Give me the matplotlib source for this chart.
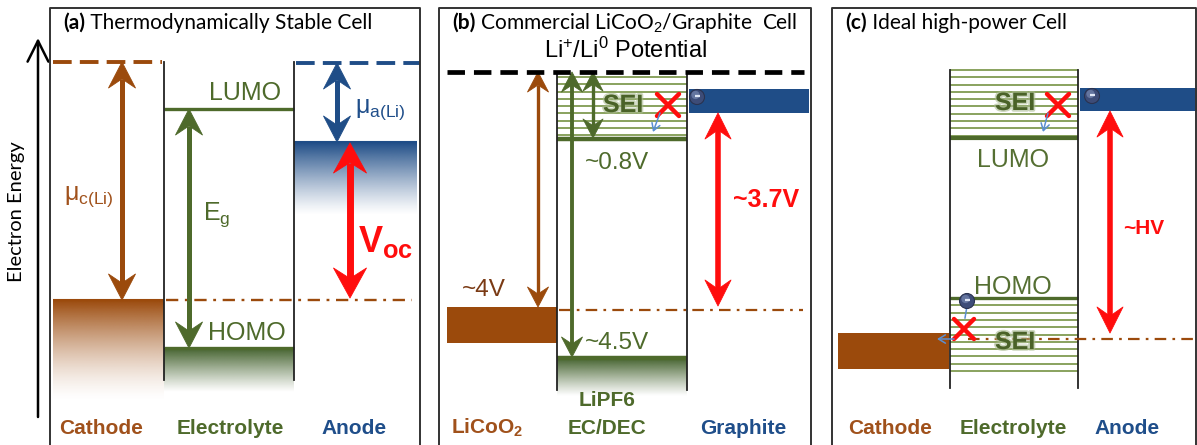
import numpy as np
import matplotlib.pyplot as plt
import matplotlib.patheffects as pe
from matplotlib.patches import Circle, Rectangle, Polygon
from matplotlib.colors import to_rgb

plt.rcParams['mathtext.fontset'] = 'custom'
plt.rcParams['mathtext.rm'] = 'Liberation Sans'
plt.rcParams['mathtext.it'] = 'Liberation Sans:italic'
plt.rcParams['mathtext.bf'] = 'Liberation Sans:bold'

ARIAL = ['Liberation Sans', 'DejaVu Sans']
CALIBRI = ['Lato', 'DejaVu Sans']

BROWN = '#9b4a0c'
BROWN_TXT = '#a0511b'
GREEN = '#4e6a2b'
HATCH = '#809b52'
BLUE = '#1f4d87'
BLUE_TXT = '#1f4e8a'
RED = '#ff0d0d'
FRAME = '#333333'

# panel frames (left, right) in pixels
frames = [(50, 420), (439, 811), (832, 1196)]
titles = [('(a)', ' Thermodynamically Stable Cell'),
          ('(b)', ' Commercial LiCoO$_2$/Graphite  Cell'),
          ('(c)', ' Ideal high-power Cell')]

# panel (a) energy levels (pixel rows, top = high electron energy)
a_cath_mu, a_cath_top = 62, 300
a_lumo, a_homo = 109, 348
a_anode_mu, a_anode_top = 63, 142
a_voc_base = 300

# panel (b)
b_li_ref = 72
b_sei_top, b_lumo = 77, 139
b_graph_top, b_graph_bot = 89, 113
b_licoo2_top, b_licoo2_bot = 307, 343
b_fermi = 310
b_homo = 358

# panel (c)
c_sei_top, c_lumo = 70, 138
c_anode_top, c_anode_bot = 88, 111
c_homo, c_sei_bot = 298, 375
c_cath_top, c_cath_bot = 333, 369
c_fermi = 339

fig = plt.figure(figsize=(11.97, 4.45), dpi=100)
ax = fig.add_axes([0, 0, 1, 1])


def grad(x0, x1, y0, y1, color, p=1.3):
    n = 200
    s = np.linspace(0, 1, n)[:, None]
    a = (1 - s) ** p
    rgba = np.zeros((n, 2, 4))
    rgba[..., :3] = to_rgb(color)
    rgba[..., 3] = a
    ax.imshow(rgba, extent=(x0, x1, y1, y0), origin='upper',
              aspect='auto', interpolation='bilinear', zorder=1)


def darrow(x, y0, y1, color, lw=3, hw=26, hl=24):
    # double arrow with stealth style heads, y0 = top tip, y1 = bottom tip
    notch = 0.35 * hl
    ax.plot([x, x], [y0 + hl - notch, y1 - hl + notch], color=color, lw=lw,
            zorder=5, solid_capstyle='butt')
    for tip, d in ((y0, 1), (y1, -1)):
        pts = [(x, tip), (x + hw / 2, tip + d * hl),
               (x, tip + d * (hl - notch)), (x - hw / 2, tip + d * hl)]
        ax.add_patch(Polygon(pts, closed=True, fc=color, ec=color, lw=0.6,
                             joinstyle='round', zorder=5))


def hline(y, x0, x1, color, lw, ls='-', z=3):
    ax.plot([x0, x1], [y, y], color=color, lw=lw, ls=ls, zorder=z,
            solid_capstyle='butt', dash_capstyle='butt')


def vline(x, y0, y1, lw=1.3):
    ax.plot([x, x], [y0, y1], color='#222222', lw=lw, zorder=4)


def hatch(x0, x1, y0, y1, step=7.3):
    for y in np.arange(y0, y1, step):
        hline(y, x0, x1, HATCH, 1.3, z=2)


def sei(x, y):
    ax.text(x, y, 'SEI', fontsize=18, fontweight='bold', color='#4a6228',
            family=ARIAL, ha='center', va='center', zorder=6,
            path_effects=[pe.withStroke(linewidth=2.5, foreground='#a9ba90',
                                        alpha=0.6)])


def cross(x, y, r=11):
    ax.plot([x - r, x + r], [y - r, y + r], color=RED, lw=3.2, zorder=7,
            solid_capstyle='round')
    ax.plot([x - r, x + r], [y + r, y - r], color=RED, lw=3.2, zorder=7,
            solid_capstyle='round')


def electron(x, y, r=7.5):
    ax.add_patch(Circle((x, y), r, fc='#3d4c78', ec='#2a3350', lw=0.8, zorder=8))
    ax.add_patch(Circle((x - 1.5, y - 2), r * 0.55, fc='#6f80aa', ec='none',
                        alpha=0.8, zorder=8))
    ax.plot([x - 2.5, x + 2.5], [y - 1, y - 1], color='#dfe6f5', lw=1.6,
            zorder=9, solid_capstyle='butt')


def small_arrow(p0, p1):
    ax.annotate('', xy=p1, xytext=p0,
                arrowprops=dict(arrowstyle='->,head_length=0.5,head_width=0.3',
                                color='#5a8fd2', lw=1.1, shrinkA=0, shrinkB=0),
                zorder=7)


# frames and titles
for (l, r), (tb, tr) in zip(frames, titles):
    ax.plot([l, l, r, r], [460, 8, 8, 460], color=FRAME, lw=1.4, zorder=10)
    t = ax.text(l + 13, 23, tb, fontsize=15, fontweight='bold',
                family=CALIBRI, va='center', ha='left', zorder=10)
    ax.annotate(tr, xy=(1, 0.5), xycoords=t, va='center', ha='left',
                fontsize=15, family=CALIBRI, zorder=10)

# energy axis
ax.annotate('', xy=(38, 38), xytext=(38, 417),
            arrowprops=dict(arrowstyle='->,head_length=1.0,head_width=0.5',
                            color='black', lw=1.8, shrinkA=0, shrinkB=0,
                            mutation_scale=15))
ax.text(17, 212, 'Electron Energy', rotation=90, fontsize=14.5,
        family=CALIBRI, ha='center', va='center')

# ---------------- panel (a) ----------------
grad(53, 164, a_cath_top, 402, BROWN, p=1.5)
grad(164, 294, a_homo, 392, '#45632f', p=1.1)
grad(294, 417, a_anode_top, 215, BLUE, p=1.2)
hline(a_cath_top, 53, 164, BROWN, 1.5)
hline(a_anode_top, 294, 417, BLUE, 1.5)

hline(a_cath_mu, 53, 162, BROWN, 2.8, ls=(0, (4.8, 2.1)))
hline(a_anode_mu, 296, 420, BLUE, 2.8, ls=(0, (4.8, 2.1)))
vline(164, 62, 380)
vline(294, 62, 380)
hline(a_lumo, 164, 294, GREEN, 2.4)
hline(a_homo, 164, 294, GREEN, 2.4)
hline(a_voc_base, 166, 412, BROWN, 1.7, ls=(0, (5.2, 2.8, 1.2, 2.8)))

darrow(122, a_cath_mu, a_cath_top, BROWN, lw=3.6, hw=27, hl=26)
darrow(189, a_lumo, a_homo, GREEN, lw=3.6, hw=27, hl=26)
darrow(337, a_anode_mu, a_anode_top, BLUE, lw=3.6, hw=27, hl=26)
darrow(350, a_anode_top + 1, a_voc_base - 2, RED, lw=5, hw=33, hl=30)

ax.text(89, 197, r'$\mathrm{\mu_{c(Li)}}$', fontsize=18, color=BROWN_TXT,
        ha='center', va='center', family=ARIAL)
ax.text(217, 215, r'$\mathrm{E_g}$', fontsize=18, color=GREEN,
        ha='center', va='center', family=ARIAL)
ax.text(380, 110, r'$\mathrm{\mu_{a(Li)}}$', fontsize=18, color=BLUE_TXT,
        ha='center', va='center', family=ARIAL)
ax.text(386, 242, r'$\mathbf{V_{oc}}$', fontsize=26, color=RED,
        ha='center', va='center', family=ARIAL)
ax.text(245, 93, 'LUMO', fontsize=18, color=GREEN, ha='center',
        va='center', family=ARIAL)
ax.text(247, 333, 'HOMO', fontsize=18, color=GREEN, ha='center',
        va='center', family=ARIAL)

# ---------------- panel (b) ----------------
ax.text(625, 50, 'Li$^{+}$/Li$^{0}$ Potential', fontsize=17, ha='center',
        va='center', family=ARIAL)
hatch(557, 687, b_sei_top, b_lumo)
grad(557, 687, b_homo, 396, '#45632f', p=1.1)
hline(b_li_ref, 447, 804, 'black', 3.4, ls=(0, (3.7, 1.9)), z=6)
vline(557, 72, 390)
vline(687, 72, 390)
hline(b_lumo, 557, 687, GREEN, 3.2)
hline(b_homo, 557, 687, GREEN, 3.2)
ax.add_patch(Rectangle((689, b_graph_top), 120, b_graph_bot - b_graph_top,
                       fc=BLUE, ec='none', zorder=3))
ax.add_patch(Rectangle((447, b_licoo2_top), 110,
                       b_licoo2_bot - b_licoo2_top, fc=BROWN, ec='none',
                       zorder=3))
hline(b_fermi, 559, 803, BROWN, 1.6, ls=(0, (5.2, 2.8, 1.2, 2.8)))

darrow(538, b_li_ref, b_licoo2_top, BROWN, lw=2.4, hw=21, hl=20)
darrow(572, b_li_ref, b_homo - 1, GREEN, lw=2.8, hw=21, hl=20)
darrow(593, b_li_ref, b_lumo - 1, GREEN, lw=2.4, hw=20, hl=19)
darrow(718, b_graph_bot, b_fermi - 4, RED, lw=4, hw=26, hl=26)

sei(623, 105)
cross(668, 105)
electron(697, 97)
small_arrow((660, 113), (653, 132))

ax.text(617, 163, '~0.8V', fontsize=17.5, color=GREEN, ha='center',
        va='center', family=ARIAL)
ax.text(617, 343, '~4.5V', fontsize=17.5, color=GREEN, ha='center',
        va='center', family=ARIAL)
ax.text(484, 290, '~4V', fontsize=17.5, color='#7a3a14', ha='center',
        va='center', family=ARIAL)
ax.text(766, 200, '~3.7V', fontsize=18, color=RED, fontweight='bold',
        ha='center', va='center', family=ARIAL)

# ---------------- panel (c) ----------------
hatch(950, 1078, c_sei_top, c_lumo)
hatch(950, 1078, c_homo, c_sei_bot + 1)
vline(950, 70, 388)
vline(1078, 70, 388)
hline(c_lumo, 950, 1078, GREEN, 3.0)
hline(c_homo, 950, 1078, GREEN, 2.4)
ax.add_patch(Rectangle((1080, c_anode_top), 120, c_anode_bot - c_anode_top,
                       fc=BLUE, ec='none', zorder=3))
ax.add_patch(Rectangle((838, c_cath_top), 111, c_cath_bot - c_cath_top,
                       fc=BROWN, ec='none', zorder=3))
hline(c_fermi, 968, 1195, BROWN, 1.6, ls=(0, (5.2, 2.8, 1.2, 2.8)), z=5)
darrow(1110, c_anode_bot, c_fermi - 6, RED, lw=4, hw=26, hl=26)

sei(1015, 103)
cross(1058, 105)
electron(1092, 96)
small_arrow((1048, 113), (1043, 132))
sei(1015, 342)
ax.plot([967, 965], [306, 318], color='#5a8fd2', lw=1.1, zorder=7)
cross(964, 329, r=10)
small_arrow((954, 339), (937, 339))
electron(967, 301)

ax.text(1013, 160, 'LUMO', fontsize=18, color='#556f32', ha='center',
        va='center', family=ARIAL)
ax.text(1013, 287, 'HOMO', fontsize=18, color='#556f32', ha='center',
        va='center', family=ARIAL)
ax.text(1144, 228, '~HV', fontsize=15, color=RED, fontweight='bold',
        ha='center', va='center', family=ARIAL)

# bottom labels
bottom = [(101, 'Cathode', BROWN_TXT), (230, 'Electrolyte', GREEN),
          (354, 'Anode', BLUE_TXT),
          (487, 'LiCoO$_\\mathbf{2}$', BROWN_TXT), (607, 'EC/DEC', GREEN),
          (743, 'Graphite', BLUE_TXT),
          (890, 'Cathode', BROWN_TXT), (1013, 'Electrolyte', GREEN),
          (1127, 'Anode', BLUE_TXT)]
for x, s, c in bottom:
    ax.text(x, 428, s, fontsize=15, fontweight='bold', color=c,
            ha='center', va='center', family=ARIAL)
ax.text(607, 400, 'LiPF6', fontsize=15, fontweight='bold', color=GREEN,
        ha='center', va='center', family=ARIAL)

ax.set_xlim(0, 1197)
ax.set_ylim(445, 0)
ax.axis('off')

fig.savefig('out.png', dpi=100)
